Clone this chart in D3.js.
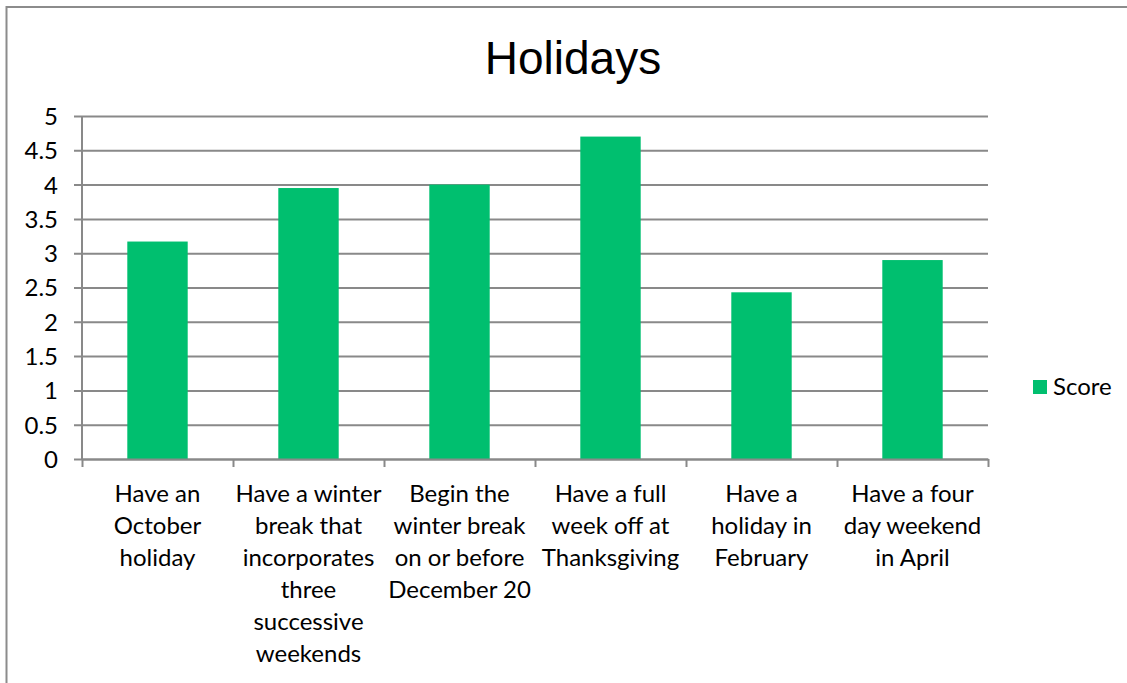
<!DOCTYPE html>
<html>
<head>
<meta charset="utf-8">
<script src="https://cdn.jsdelivr.net/npm/d3@7"></script>
<style>
  html, body { margin: 0; padding: 0; background: #fff; }
  svg { display: block; }
</style>
</head>
<body>
<svg id="chart" width="1127" height="683"></svg>
<script>
// Survey scores for holiday-calendar options
const categories = [
  "Have an October holiday",
  "Have a winter break that incorporates three successive weekends",
  "Begin the winter break on or before December 20",
  "Have a full week off at Thanksgiving",
  "Have a holiday in February",
  "Have a four day weekend in April"
];
// Category labels as they wrap under the axis
const categoryLines = [
  ["Have an", "October", "holiday"],
  ["Have a winter", "break that", "incorporates", "three", "successive", "weekends"],
  ["Begin the", "winter break", "on or before", "December 20"],
  ["Have a full", "week off at", "Thanksgiving"],
  ["Have a", "holiday in", "February"],
  ["Have a four", "day weekend", "in April"]
];
const scores = [3.17, 3.95, 4.0, 4.7, 2.43, 2.9];
const yTicks = [0, 0.5, 1, 1.5, 2, 2.5, 3, 3.5, 4, 4.5, 5];
const seriesName = "Score";
const chartTitle = "Holidays";

const W = 1127, H = 683;
const plot = { left: 82, right: 988, top: 116, bottom: 459 };
const barColor = "#00bf6f";
const gridColor = "#898989";
const labelFont = "Lato, 'Open Sans', sans-serif";
const labelSize = 24;

const svg = d3.select("#chart");

// Outer chart border (top and left edges visible)
svg.append("path")
  .attr("d", `M6.5,${H} L6.5,7 L${W},7`)
  .attr("fill", "none")
  .attr("stroke", "#8c8c8c")
  .attr("stroke-width", 2);

const x = d3.scaleBand()
  .domain(categories)
  .range([plot.left, plot.right])
  .paddingInner(0.6)
  .paddingOuter(0.3);

const xTickScale = d3.scaleLinear()
  .domain([0, categories.length])
  .range([plot.left, plot.right]);

const y = d3.scaleLinear()
  .domain([0, 5])
  .range([plot.bottom, plot.top]);

// Title
svg.append("text")
  .attr("x", 573)
  .attr("y", 74)
  .attr("text-anchor", "middle")
  .attr("font-family", "'Liberation Sans', Arial, sans-serif")
  .attr("font-size", 46)
  .attr("fill", "#000")
  .text(chartTitle);

// Horizontal gridlines with tick stubs left of the axis
const gy = svg.append("g").attr("transform", `translate(${plot.left - 8},0)`);
gy.call(d3.axisLeft(y).tickValues(yTicks).tickSize(0).tickPadding(0).tickFormat(""))
  .select(".domain").remove();

gy.selectAll(".tick").append("line")
  .attr("x1", 0).attr("x2", plot.right - plot.left + 8)
  .attr("stroke", gridColor)
  .attr("stroke-width", 2);

gy.selectAll(".tick").append("text")
  .attr("x", -16)
  .attr("dy", "0.35em")
  .attr("text-anchor", "end")
  .attr("font-family", labelFont)
  .attr("font-size", labelSize)
  .attr("fill", "#000")
  .text(d => String(d));

// Vertical axis line
svg.append("line")
  .attr("x1", plot.left).attr("x2", plot.left)
  .attr("y1", plot.top).attr("y2", plot.bottom + 1)
  .attr("stroke", gridColor)
  .attr("stroke-width", 2);

// Bars
svg.append("g").selectAll("rect")
  .data(categories)
  .join("rect")
  .attr("x", d => x(d))
  .attr("width", x.bandwidth())
  .attr("y", (d, i) => y(scores[i]))
  .attr("height", (d, i) => y(0) - y(scores[i]))
  .attr("fill", barColor);

// Category axis: baseline and tick marks between categories
const xg = svg.append("g").attr("transform", `translate(0,${plot.bottom})`);
xg.call(d3.axisBottom(xTickScale)
  .tickValues(d3.range(categories.length + 1))
  .tickSize(8)
  .tickSizeOuter(0)
  .tickFormat(""));
xg.selectAll("path, line").attr("stroke", gridColor).attr("stroke-width", 2);

// Wrapped category labels
const labelG = svg.append("g")
  .attr("font-family", labelFont)
  .attr("font-size", labelSize)
  .attr("fill", "#000")
  .attr("text-anchor", "middle");
categoryLines.forEach((lines, i) => {
  const cx = x(categories[i]) + x.bandwidth() / 2;
  const t = labelG.append("text").attr("x", cx).attr("y", 502);
  lines.forEach((ln, j) => {
    t.append("tspan").attr("x", cx).attr("dy", j === 0 ? 0 : 32).text(ln);
  });
});

// Legend
const lg = svg.append("g").attr("transform", "translate(1033,380)");
lg.append("rect").attr("width", 14).attr("height", 14).attr("fill", barColor);
lg.append("text")
  .attr("x", 20).attr("y", 7).attr("dy", "0.35em")
  .attr("font-family", labelFont)
  .attr("font-size", labelSize)
  .attr("fill", "#000")
  .text(seriesName);
</script>
</body>
</html>
